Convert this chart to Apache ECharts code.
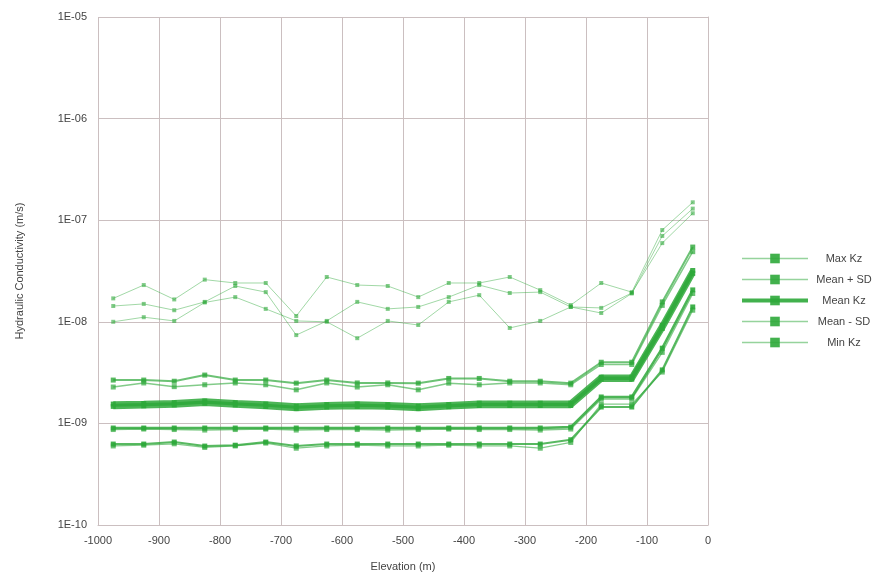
<!DOCTYPE html>
<html>
<head>
<meta charset="utf-8">
<script src="https://cdn.jsdelivr.net/npm/echarts@6/dist/echarts.min.js"></script>
<style>html,body{margin:0;padding:0;background:#fff}#c{width:882px;height:588px}</style>
</head>
<body>
<div id="c"></div>
<script>
const elevation = [-975,-925,-875,-825,-775,-725,-675,-625,-575,-525,-475,-425,-375,-325,-275,-225,-175,-125,-75,-25];
const maxKz1 = [1.7e-8,2.3e-8,1.66e-8,2.6e-8,2.41e-8,2.41e-8,1.14e-8,2.76e-8,2.3e-8,2.25e-8,1.75e-8,2.41e-8,2.41e-8,2.76e-8,2.05e-8,1.46e-8,2.41e-8,1.96e-8,8.0e-8,1.5e-7];
const maxKz2 = [1.43e-8,1.5e-8,1.3e-8,1.57e-8,2.25e-8,1.96e-8,7.4e-9,1.02e-8,1.57e-8,1.34e-8,1.4e-8,1.75e-8,2.3e-8,1.92e-8,1.96e-8,1.4e-8,1.37e-8,1.92e-8,5.95e-8,1.17e-7];
const maxKz3 = [1.0e-8,1.11e-8,1.02e-8,1.55e-8,1.75e-8,1.34e-8,1.02e-8,1.0e-8,6.9e-9,1.02e-8,9.3e-9,1.57e-8,1.83e-8,8.7e-9,1.02e-8,1.4e-8,1.22e-8,1.9e-8,7.0e-8,1.3e-7];
const meanPlusSD1 = [2.67e-9,2.67e-9,2.6e-9,2.99e-9,2.67e-9,2.67e-9,2.49e-9,2.67e-9,2.5e-9,2.5e-9,2.49e-9,2.77e-9,2.77e-9,2.6e-9,2.6e-9,2.49e-9,4.0e-9,4.0e-9,1.57e-8,5.44e-8];
const meanPlusSD2 = [2.28e-9,2.5e-9,2.3e-9,2.4e-9,2.5e-9,2.4e-9,2.14e-9,2.5e-9,2.28e-9,2.4e-9,2.14e-9,2.49e-9,2.4e-9,2.5e-9,2.5e-9,2.4e-9,3.8e-9,3.8e-9,1.45e-8,4.9e-8];
const meanKz1 = [1.55e-9,1.57e-9,1.6e-9,1.66e-9,1.6e-9,1.55e-9,1.48e-9,1.53e-9,1.55e-9,1.53e-9,1.48e-9,1.53e-9,1.58e-9,1.58e-9,1.58e-9,1.58e-9,2.85e-9,2.85e-9,9.2e-9,3.2e-8];
const meanKz2 = [1.47e-9,1.49e-9,1.52e-9,1.58e-9,1.52e-9,1.47e-9,1.4e-9,1.45e-9,1.47e-9,1.45e-9,1.4e-9,1.46e-9,1.5e-9,1.5e-9,1.5e-9,1.5e-9,2.72e-9,2.72e-9,8.6e-9,3.0e-8];
const meanMinusSD1 = [9.0e-10,9.0e-10,9.0e-10,9.0e-10,9.0e-10,9.0e-10,9.0e-10,9.0e-10,9.0e-10,9.0e-10,9.0e-10,9.0e-10,9.0e-10,9.0e-10,9.0e-10,9.2e-10,1.82e-9,1.82e-9,5.5e-9,2.06e-8];
const meanMinusSD2 = [8.7e-10,8.8e-10,8.7e-10,8.6e-10,8.7e-10,8.8e-10,8.6e-10,8.7e-10,8.7e-10,8.6e-10,8.7e-10,8.8e-10,8.7e-10,8.7e-10,8.6e-10,8.8e-10,1.74e-9,1.74e-9,5.0e-9,1.9e-8];
const minKz1 = [6.26e-10,6.26e-10,6.55e-10,5.98e-10,6.1e-10,6.55e-10,6.0e-10,6.26e-10,6.26e-10,6.26e-10,6.26e-10,6.26e-10,6.26e-10,6.26e-10,6.26e-10,6.9e-10,1.45e-9,1.45e-9,3.36e-9,1.4e-8];
const minKz2 = [6.0e-10,6.1e-10,6.3e-10,5.8e-10,6.0e-10,6.4e-10,5.7e-10,6.0e-10,6.1e-10,6.0e-10,6.0e-10,6.1e-10,6.0e-10,6.0e-10,5.7e-10,6.5e-10,1.55e-9,1.55e-9,3.2e-9,1.3e-8];
const seriesNames = ['Max Kz','Mean + SD','Mean Kz','Mean - SD','Min Kz'];
const yTickLabels = ['1E-10','1E-09','1E-08','1E-07','1E-06','1E-05'];

const pair = (arr) => elevation.map((e, i) => [e, arr[i]]);
const G = '#2ea83a';
function mk(name, arr, lw, op, sym, symOp) {
  return {
    name: name, type: 'line', data: pair(arr),
    symbol: 'rect', symbolSize: sym,
    lineStyle: {color: G, width: lw, opacity: op},
    itemStyle: {color: G, opacity: symOp},
    emphasis: {disabled: true},
    z: 2
  };
}
const series = [
  mk(seriesNames[0], maxKz1, 1, 0.45, 4, 0.6),
  mk(seriesNames[0], maxKz2, 1, 0.45, 4, 0.6),
  mk(seriesNames[0], maxKz3, 1, 0.45, 4, 0.6),
  mk(seriesNames[1], meanPlusSD1, 2, 0.7, 5, 0.8),
  mk(seriesNames[1], meanPlusSD2, 1.5, 0.6, 5, 0.7),
  mk(seriesNames[2], meanKz1, 5.5, 0.85, 5, 0.9),
  mk(seriesNames[2], meanKz2, 5.5, 0.85, 5, 0.9),
  mk(seriesNames[3], meanMinusSD1, 2.5, 0.85, 5, 0.9),
  mk(seriesNames[3], meanMinusSD2, 1.5, 0.6, 5, 0.7),
  mk(seriesNames[4], minKz1, 2, 0.8, 5, 0.9),
  mk(seriesNames[4], minKz2, 1.2, 0.6, 5, 0.7)
];

const chart = echarts.init(document.getElementById('c'));
chart.setOption({
  animation: false,
  backgroundColor: '#fff',
  textStyle: {fontFamily: 'Liberation Sans, Arial, sans-serif'},
  grid: {left: 98, right: 174, top: 17, bottom: 63},
  legend: {
    orient: 'vertical', left: 735, top: 248,
    itemWidth: 66, itemHeight: 12, itemGap: 10,
    formatter: (n) => '{c|' + n + '}',
    textStyle: {fontSize: 11, color: '#444', rich: {c: {width: 62, align: 'center', fontSize: 11, color: '#444'}}},
    data: seriesNames.map((n, i) => ({
      name: n,
      lineStyle: {color: G, width: i === 2 ? 4 : 1.5, opacity: i === 2 ? 0.9 : 0.5},
      itemStyle: {color: G, opacity: 0.9}
    }))
  },
  xAxis: {
    type: 'value', min: -1000, max: 0, interval: 100,
    name: 'Elevation (m)', nameLocation: 'middle', nameGap: 36,
    nameTextStyle: {fontSize: 11, color: '#444'},
    axisLine: {show: true, lineStyle: {color: '#cbbfc0'}},
    axisTick: {show: false},
    axisLabel: {fontSize: 11, color: '#444', margin: 10, formatter: (v) => String(v)},
    splitLine: {show: true, lineStyle: {color: '#cbbfc0', width: 1}}
  },
  yAxis: {
    type: 'log', logBase: 10, min: 1e-10, max: 1e-5,
    name: 'Hydraulic Conductivity (m/s)', nameLocation: 'middle', nameGap: 73,
    nameTextStyle: {fontSize: 11, color: '#444'},
    axisLine: {show: true, lineStyle: {color: '#cbbfc0'}},
    axisTick: {show: false},
    axisLabel: {fontSize: 11, color: '#444', margin: 11,
      formatter: (v) => yTickLabels[Math.round(Math.log10(v)) + 10]},
    splitLine: {show: true, lineStyle: {color: '#cbbfc0', width: 1}}
  },
  series: series
});
</script>
</body>
</html>
